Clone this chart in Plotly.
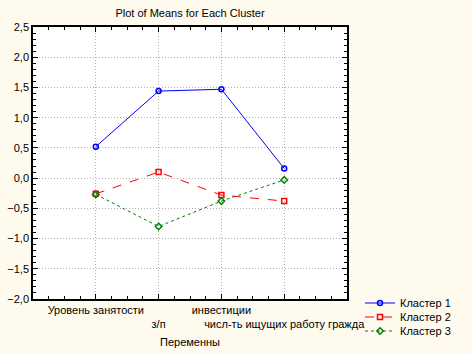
import plotly.graph_objects as go

categories = ["Уровень занятости", "з/п", "инвестиции", "числ-ть ищущих работу гражда"]
tick_labels = ["Уровень занятости", "<br>з/п", "инвестиции", "<br>числ-ть ищущих работу гражда"]
cluster1 = [0.52, 1.44, 1.47, 0.16]
cluster2 = [-0.26, 0.10, -0.28, -0.38]
cluster3 = [-0.27, -0.80, -0.38, -0.03]
series_names = ["Кластер 1", "Кластер 2", "Кластер 3"]

xpos = list(range(len(categories)))
FONT = "Liberation Sans, Arial, sans-serif"
L, R, T, B = 33, 125, 27, 55
W, H = 472, 354
PW, PH = W - L - R, H - T - B

fig = go.Figure()
styles = [
    ("#0000FF", "solid", "circle-open"),
    ("#FF0000", "dash", "square-open"),
    ("#008000", "dot", "diamond-open"),
]
legend_ids = ["legend", "legend2", "legend3"]
legend_ypx = [303, 317, 331]
for name, vals, (col, dash, sym), lid in zip(series_names, [cluster1, cluster2, cluster3], styles, legend_ids):
    fig.add_trace(go.Scatter(
        x=xpos, y=vals, name=name, mode="lines+markers", legend=lid,
        line=dict(color=col, width=1, dash=dash),
        marker=dict(symbol=sym, size=5, color=col, line=dict(width=1.5, color=col)),
    ))

axis_common = dict(
    showline=True, linecolor="black", linewidth=1.5, mirror="allticks",
    ticks="inside", ticklen=5, tickcolor="black",
    showgrid=True, gridcolor="#B0B0B0", griddash="1px,2px", gridwidth=1,
    zeroline=False, tickfont=dict(family=FONT, size=11, color="black"),
    automargin=False,
)

legend_layout = {}
for lid, ypx in zip(legend_ids, legend_ypx):
    legend_layout[lid] = dict(
        x=(360 - L) / PW, y=(H - B - ypx) / PH, xanchor="left", yanchor="middle",
        bgcolor="rgba(0,0,0,0)", borderwidth=0,
        font=dict(family=FONT, size=11, color="black"),
    )

fig.update_layout(
    width=W, height=H,
    margin=dict(l=L, r=R, t=T, b=B, autoexpand=False),
    paper_bgcolor="#FFFAEE", plot_bgcolor="white",
    separators=",.",
    font=dict(family=FONT, size=11, color="black"),
    title=dict(text="Plot of Means for Each Cluster", x=(L + PW / 2) / W, xanchor="center",
               y=1 - 13 / H, yanchor="middle", font=dict(family=FONT, size=11, color="black")),
    showlegend=True,
    **legend_layout,
    annotations=[dict(text="Переменны", xref="paper", yref="paper", x=0.5, y=(H - B - 342) / PH,
                      xanchor="center", yanchor="middle", showarrow=False,
                      font=dict(family=FONT, size=11, color="black"))],
)
fig.update_xaxes(
    **axis_common, range=[-1, 4], tickmode="array", tickvals=xpos, ticktext=tick_labels,
    tickangle=0,
    minor=dict(ticks="inside", ticklen=3, dtick=0.25, tick0=0, tickcolor="black", showgrid=False),
)
fig.update_yaxes(
    **axis_common, range=[-2, 2.5], dtick=0.5, tick0=0, tickformat=".1f",
    minor=dict(ticks="inside", ticklen=3, dtick=0.1, tick0=0, tickcolor="black", showgrid=False),
)

fig.write_html("out.html")
